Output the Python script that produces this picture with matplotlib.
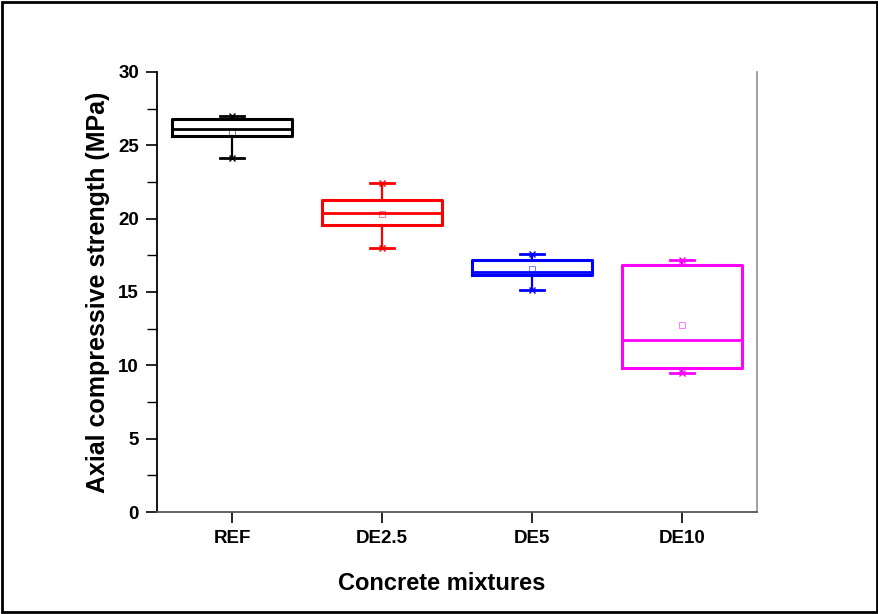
import matplotlib.pyplot as plt
from matplotlib.patches import Rectangle

plt.rcParams['font.family'] = ['Liberation Sans', 'DejaVu Sans']

# values (MPa)
mixtures = ['REF', 'DE2.5', 'DE5', 'DE10']
whisker_low = [24.1, 18.0, 15.1, 9.5]
q1 = [25.6, 19.55, 16.15, 9.8]
medians = [26.1, 20.4, 16.35, 11.75]
q3 = [26.8, 21.25, 17.2, 16.85]
whisker_high = [27.0, 22.4, 17.6, 17.2]
means = [25.9, 20.3, 16.55, 12.75]
colors = ['black', '#FF0000', '#0000FF', '#FF00FF']

positions = list(range(1, len(mixtures) + 1))

fig = plt.figure(figsize=(8.79, 6.14), dpi=100)
ax = fig.add_axes([0.1786, 0.166, 0.6826, 0.717])

for i, pos in enumerate(positions):
    stats = [{'whislo': whisker_low[i], 'q1': q1[i], 'med': medians[i],
              'q3': q3[i], 'whishi': whisker_high[i], 'mean': means[i],
              'fliers': []}]
    c = colors[i]
    ax.bxp(stats, positions=[pos], widths=0.8, showmeans=True,
           showfliers=False, capwidths=0.16, manage_ticks=False,
           boxprops=dict(color=c, linewidth=2.2),
           medianprops=dict(color=c, linewidth=2.0),
           whiskerprops=dict(color=c, linewidth=1.6),
           capprops=dict(color=c, linewidth=2.0),
           meanprops=dict(marker='s', markersize=4, markerfacecolor='none',
                          markeredgecolor=c, markeredgewidth=0.6, alpha=0.6))
    # small crosses at min / max
    ax.plot([pos, pos], [whisker_low[i], whisker_high[i]], linestyle='none',
            marker='x', markersize=4, color=c, markeredgewidth=1.0)

ax.set_xlim(0.5, 4.5)
ax.set_ylim(0, 30)
ax.set_xticks(positions)
ax.set_xticklabels(mixtures)
ax.set_yticks([0, 5, 10, 15, 20, 25, 30])
ax.set_yticks([2.5, 7.5, 12.5, 17.5, 22.5, 27.5], minor=True)

ax.tick_params(axis='both', which='major', direction='out', length=8,
               width=1.2, labelsize=13.5, pad=5)
ax.tick_params(axis='y', which='minor', direction='out', length=7, width=1.0)
for lab in ax.get_xticklabels() + ax.get_yticklabels():
    lab.set_fontweight('bold')

ax.spines['top'].set_visible(False)
ax.spines['left'].set_color('black')
ax.spines['left'].set_linewidth(1.3)
ax.spines['bottom'].set_color('#555555')
ax.spines['bottom'].set_linewidth(1.3)
ax.spines['right'].set_color('#999999')
ax.spines['right'].set_linewidth(1.3)

ax.set_ylabel('Axial compressive strength (MPa)', fontsize=18,
              fontweight='bold', labelpad=6)
ax.set_xlabel('Concrete mixtures', fontsize=17, fontweight='bold',
              labelpad=16)
ax.xaxis.set_label_coords(0.475, -0.135)

# black frame around the whole picture
fig.patches.append(Rectangle((0.002, 0.003), 0.996, 0.994,
                             transform=fig.transFigure, fill=False,
                             edgecolor='black', linewidth=2.0))

fig.savefig('out.png', dpi=100)
